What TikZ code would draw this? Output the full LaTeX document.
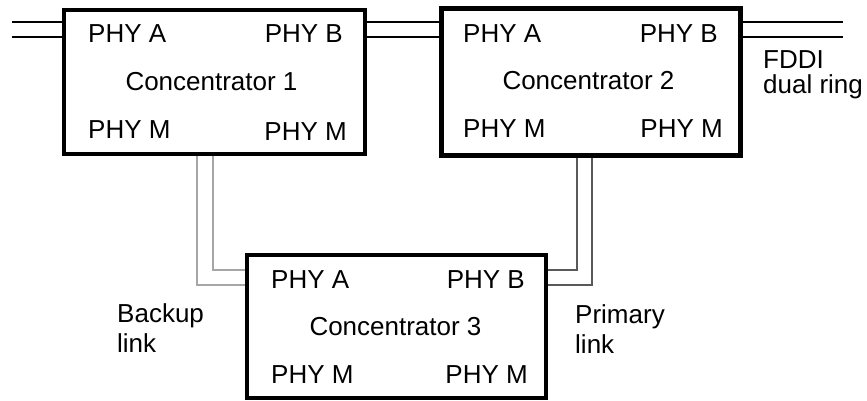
\documentclass[tikz,border=0pt]{standalone}
\usepackage{fontspec}
\setmainfont{Liberation Sans}
\begin{document}
\begin{tikzpicture}[x=1pt,y=-1pt,
  conc/.style={draw=black, inner sep=0pt, line width=3.2pt},
  concbold/.style={conc, line width=5pt},
  lbl/.style={inner sep=0pt, font=\fontsize{26}{30}\selectfont},
  ring/.style={draw=black, line width=1.1pt},
  backup/.style={draw=black!35, line width=1.1pt},
  primary/.style={draw=black!65, line width=1.1pt}]
\useasboundingbox (0,0) rectangle (867,401);
% boxes
\node[conc, minimum width=301pt, minimum height=144pt] (c1) at (214.5,82) {};
\node[concbold, minimum width=299pt, minimum height=146pt] (c2) at (590.5,82) {};
\node[conc, minimum width=299pt, minimum height=143pt] (c3) at (396.5,326.5) {};
% box 1 texts
\node[lbl, anchor=base west] (c1a) at (88,43) {PHY A};
\node[lbl, anchor=base east] (c1b) at (343,43) {PHY B};
\node[lbl, anchor=base] (c1n) at (211.5,90.5) {Concentrator 1};
\node[lbl, anchor=base west] (c1m) at (88,139) {PHY M};
\node[lbl, anchor=base east] (c1mm) at (347,140) {PHY M};
% box 2 texts
\node[lbl, anchor=base west] (c2a) at (463,43) {PHY A};
\node[lbl, anchor=base east] (c2b) at (718,43) {PHY B};
\node[lbl, anchor=base] (c2n) at (588.5,90) {Concentrator 2};
\node[lbl, anchor=base west] (c2m) at (463,138) {PHY M};
\node[lbl, anchor=base east] (c2mm) at (723,138) {PHY M};
% box 3 texts
\node[lbl, anchor=base west] (c3a) at (271,288) {PHY A};
\node[lbl, anchor=base east] (c3b) at (525,288) {PHY B};
\node[lbl, anchor=base] (c3n) at (395.5,335) {Concentrator 3};
\node[lbl, anchor=base west] (c3m) at (271,383) {PHY M};
\node[lbl, anchor=base east] (c3mm) at (528,383) {PHY M};
% side labels (base = baseline of last line)
\node[lbl, anchor=base west, align=left, font=\fontsize{26}{25}\selectfont] (fddi) at (763,94) {FDDI\\dual ring};
\node[lbl, anchor=base west, align=left] (bl) at (117,352) {Backup\\link};
\node[lbl, anchor=base west, align=left] (pl) at (575,353) {Primary\\link};
% dual ring
\coordinate (rl1) at (12,22);
\coordinate (rl2) at (12,37);
\coordinate (rr1) at (843,22);
\coordinate (rr2) at (843,37);
\draw[ring] (rl1) -- (rl1 -| c1.west);
\draw[ring] (rl2) -- (rl2 -| c1.west);
\draw[ring] (rl1 -| c1.east) -- (rl1 -| c2.west);
\draw[ring] (rl2 -| c1.east) -- (rl2 -| c2.west);
\draw[ring] (rr1 -| c2.east) -- (rr1);
\draw[ring] (rr2 -| c2.east) -- (rr2);
% backup link
\coordinate (bo) at (197,285);
\coordinate (bi) at (213,270);
\draw[backup] (c1.south -| bo) |- (c3.west |- bo);
\draw[backup] (c1.south -| bi) |- (c3.west |- bi);
% primary link
\coordinate (pi) at (577,270);
\coordinate (po) at (592,285);
\draw[primary] (c2.south -| pi) |- (c3.east |- pi);
\draw[primary] (c2.south -| po) |- (c3.east |- po);
\end{tikzpicture}
\end{document}
